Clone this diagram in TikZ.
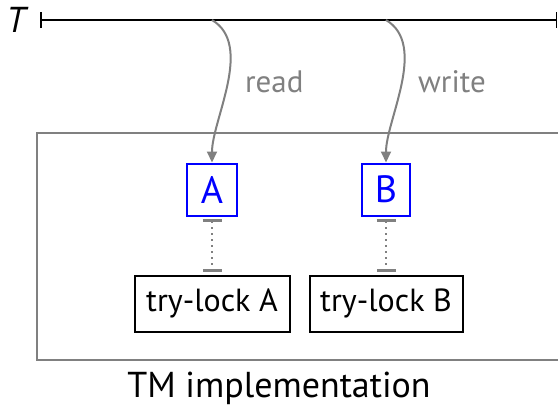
\documentclass[tikz,border=0pt]{standalone}
\usepackage{fontspec}
\setmainfont{PT Sans}
\newfontfamily\tfont{PT Sans Italic}
\usetikzlibrary{arrows.meta}
\definecolor{lgray}{RGB}{128,128,128}
\begin{document}
\begin{tikzpicture}[x=1pt,y=-1pt,
  varbox/.style={draw=blue,line width=2pt,text=blue,inner sep=0pt,font=\fontsize{38}{42}\selectfont},
  lockbox/.style={draw=black,line width=2pt,inner sep=0pt,font=\fontsize{32}{36}\selectfont},
  opcurve/.style={draw=lgray,line width=2pt,-{Triangle[length=11pt,width=10pt]}},
  oplabel/.style={text=lgray,anchor=base west,inner sep=0pt,font=\fontsize{31}{34}\selectfont},
  lockline/.style={draw=lgray,line width=2pt,dash pattern=on 2pt off 4pt,{Bar[width=19pt,line width=3pt]}-{Bar[width=19pt,line width=3pt]}}]
\useasboundingbox (0,0) rectangle (558,408);
% outer box
\draw[lgray,line width=2pt] (37,133) rectangle (570,360);
% timeline
\node[anchor=base,inner sep=0pt,font=\tfont\fontsize{36}{40}\selectfont] (T) at (16,32) {T};
\coordinate (t0) at (40,20);
\coordinate (t1) at (557,20);
\draw[line width=2pt,{Bar[width=16pt,line width=1.5pt]}-{Bar[width=16pt,line width=1.5pt]}] (t0) -- (t1);
% nodes
\node[varbox,minimum width=50pt,minimum height=52pt] (A) at (212,189.5) {A};
\node[varbox,minimum width=48pt,minimum height=52pt] (B) at (386,189.5) {B};
\node[lockbox,minimum width=155pt,minimum height=56pt] (LA) at (212,303.5) {try-lock A};
\node[lockbox,minimum width=153pt,minimum height=56pt] (LB) at (386,303.5) {try-lock B};
% operations
\coordinate (ra) at (212,20);
\coordinate (wb) at (386,20);
\draw[opcurve] (ra) .. controls (254,45) and (212,120) .. (A.north);
\draw[opcurve] (wb) .. controls (428,45) and (386,120) .. (B.north);
\node[oplabel] (rl) at (245,92) {read};
\node[oplabel] (wl) at (418,92) {write};
% lock connectors
\draw[lockline] ([yshift=-2.5pt]A.south) -- ([yshift=2.5pt]LA.north);
\draw[lockline] ([yshift=-2.5pt]B.south) -- ([yshift=2.5pt]LB.north);
% caption
\node[anchor=base,inner sep=0pt,font=\fontsize{36}{40}\selectfont] (cap) at (279,397) {TM implementation};
\end{tikzpicture}
\end{document}
